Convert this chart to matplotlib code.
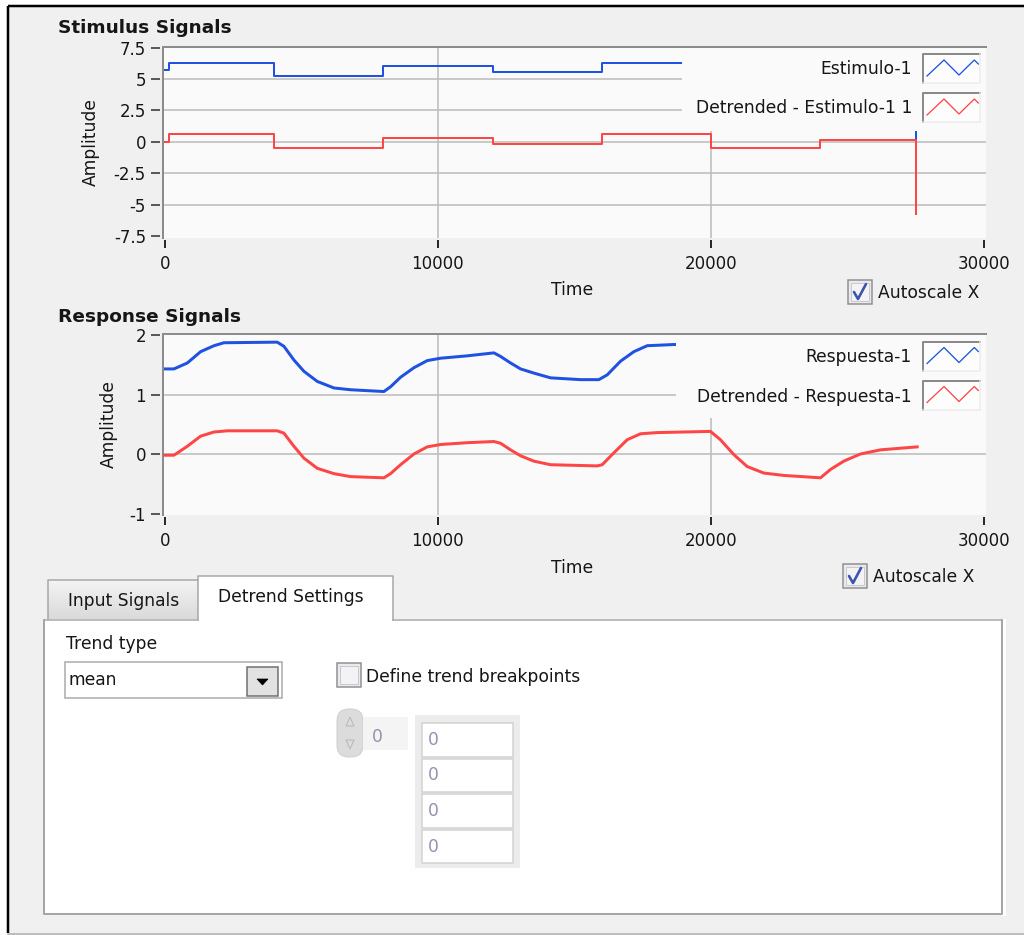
import matplotlib.pyplot as plt
from matplotlib.patches import Rectangle, Polygon, FancyBboxPatch
import numpy as np

# Stimulus: step signal and its mean-detrended version
stim_t = [0, 150, 4000, 8000, 12000, 16000, 20000, 24000, 27500]
stim_v = [5.75, 6.32, 5.25, 6.02, 5.57, 6.32, 5.30, 5.89, 0.0]
stim_det_v = [0.0, 0.64, -0.45, 0.30, -0.13, 0.62, -0.45, 0.14, -5.75]

# Response of the system
resp_t = [0, 340, 830, 1317, 1805, 2170, 4120, 4366, 4731, 5097, 5585, 6195,
          6805, 8024, 8268, 8634, 9122, 9610, 10099, 11075, 12050, 12294,
          12660, 13026, 13512, 14122, 15220, 15891, 16196, 16684, 17171,
          17660, 18635, 18730, 20000, 20840, 21900, 24000, 24850, 26200, 27500]
resp_v = [1.43, 1.43, 1.53, 1.72, 1.82, 1.87, 1.88, 1.81, 1.58, 1.39, 1.22,
          1.11, 1.08, 1.05, 1.13, 1.29, 1.45, 1.57, 1.61, 1.65, 1.70, 1.64,
          1.53, 1.43, 1.36, 1.28, 1.25, 1.25, 1.33, 1.56, 1.72, 1.82, 1.84,
          1.84, 1.84, 1.44, 1.13, 1.05, 1.33, 1.52, 1.57]

resp_det_t = [0, 340, 830, 1317, 1805, 2293, 4120, 4366, 4731, 5097, 5585,
              6195, 6805, 8024, 8268, 8634, 9122, 9610, 10099, 11075, 12050,
              12294, 12660, 13026, 13512, 14122, 15830, 16013, 16440, 16928,
              17415, 18025, 19975, 20340, 20830, 21317, 21927, 22660, 24000,
              24366, 24854, 25460, 26200, 27540]
resp_det_v = [-0.02, -0.02, 0.13, 0.30, 0.37, 0.39, 0.39, 0.35, 0.13, -0.07,
              -0.24, -0.33, -0.38, -0.40, -0.33, -0.18, 0.0, 0.12, 0.16, 0.19,
              0.21, 0.18, 0.07, -0.03, -0.12, -0.18, -0.20, -0.18, 0.02, 0.24,
              0.34, 0.36, 0.38, 0.24, -0.01, -0.21, -0.32, -0.36, -0.40, -0.26,
              -0.12, 0.0, 0.07, 0.12]

x_ticks = [0, 10000, 20000, 30000]
x_grid = [10000, 20000]
stim_yticks = [7.5, 5, 2.5, 0, -2.5, -5, -7.5]
stim_ylabels = ['7.5', '5', '2.5', '0', '-2.5', '-5', '-7.5']
stim_ygrid = [5, 2.5, 0, -2.5, -5]
resp_yticks = [2, 1, 0, -1]
resp_ylabels = ['2', '1', '0', '-1']
resp_ygrid = [1, 0]

stim_names = ['Estimulo-1', 'Detrended - Estimulo-1 1']
resp_names = ['Respuesta-1', 'Detrended - Respuesta-1']
breakpoints = [0, 0, 0, 0]

BLUE = '#1f52e0'
RED = '#ff4646'
PANEL = '#f0f0f0'
PLOTBG = '#fafafa'
GRID = '#bdbdbd'
FRAME = '#8c8c8c'
TXT = '#161616'
FS = 12.3

W, H = 1024, 935
PT = 0.72  # one pixel in points at 100 dpi

plt.rcParams['font.family'] = ['DejaVu Sans']
fig = plt.figure(figsize=(W / 100, H / 100), dpi=100)
fig.patch.set_facecolor('white')


def px_axes(l, t, r, b, z):
    return fig.add_axes([l / W, 1 - b / H, (r - l) / W, (b - t) / H], zorder=z)


def canvas(z):
    ax = px_axes(0, 0, W, H, z)
    ax.set_xlim(0, W)
    ax.set_ylim(H, 0)
    ax.axis('off')
    return ax


bg = canvas(0)
ov = canvas(3)

# window background and border
bg.add_patch(Rectangle((8, 6), W - 8, 927, fc=PANEL, ec='none'))
bg.plot([8, W], [6, 6], color='black', lw=2.5 * PT, solid_capstyle='butt')
bg.plot([8, 8], [6, 933], color='black', lw=2.5 * PT, solid_capstyle='butt')
bg.plot([8, W], [933.5, 933.5], color='#a8a8a8', lw=1.5 * PT)


def checkbox(ax, l, t, size, checked):
    ax.add_patch(Rectangle((l, t), size, size, fc='#e9e9ee', ec='#8f8f8f', lw=1.5 * PT))
    ax.add_patch(Rectangle((l + 3, t + 3), size - 6, size - 6, fc='#f3f3f6', ec='#c9c9d0', lw=1 * PT))
    if checked:
        ax.plot([l + 6, l + 10, l + size - 6], [t + 12, t + size - 5, t + 4],
                color='#3a55ab', lw=2.6 * PT, solid_capstyle='round')


def chart(top, bottom, title, title_y, t1, v1, t2, v2, step, lw,
          ylim, yticks, ylabels, ygrid, amp_x, time_y, auto_box, auto_y):
    ax = px_axes(163, top, 985.5, bottom, 1)
    ax.set_facecolor(PLOTBG)
    ax.set_xlim(-60, 30040)
    ax.set_ylim(*ylim)
    for y in ygrid:
        ax.axhline(y, color=GRID, lw=1.6 * PT, zorder=0.5)
    for x in x_grid:
        ax.axvline(x, color=GRID, lw=1.6 * PT, zorder=0.5)
    if step:
        ax.step(t1, v1, where='post', color=BLUE, lw=lw * PT, zorder=2)
        ax.step(t2, v2, where='post', color=RED, lw=lw * PT, zorder=2.1)
    else:
        ax.plot(t1, v1, color=BLUE, lw=lw * PT, zorder=2)
        ax.plot(t2, v2, color=RED, lw=lw * PT, zorder=2.1)

    for s in ax.spines.values():
        s.set_visible(False)
    ax.spines['left'].set_position(('outward', 3 * PT))
    ax.spines['bottom'].set_position(('outward', 2 * PT))
    ax.plot([0, 0], [0, 1], transform=ax.transAxes, color=FRAME, lw=2 * PT, clip_on=False)
    ax.plot([0, 1], [1, 1], transform=ax.transAxes, color=FRAME, lw=2 * PT, clip_on=False)

    ax.set_xticks(x_ticks)
    ax.set_xticklabels([str(v) for v in x_ticks])
    ax.set_yticks(yticks)
    ax.set_yticklabels(ylabels)
    ax.tick_params(axis='y', direction='out', length=9 * PT, width=1.5 * PT,
                   color='#2a2a2a', pad=5 * PT, labelsize=12, labelcolor=TXT)
    ax.tick_params(axis='x', direction='out', length=8 * PT, width=2 * PT,
                   color='#2a2a2a', pad=7 * PT, labelsize=12, labelcolor=TXT)

    bg.text(58, title_y, title, fontsize=13.3, fontweight='bold', color=TXT,
            ha='left', va='center')
    bg.text(amp_x, (top + bottom) / 2, 'Amplitude', rotation=90, fontsize=FS,
            color=TXT, ha='center', va='center')
    bg.text(572, time_y, 'Time', fontsize=FS, color=TXT, ha='center', va='center')
    checkbox(bg, auto_box[0], auto_box[1], 24, True)
    bg.text(auto_box[0] + 30, auto_y, 'Autoscale X', fontsize=FS, color=TXT,
            ha='left', va='center')
    return ax


def legend(left, top, bottom, names, text_y, box_top):
    ov.add_patch(Rectangle((left, top), 985.5 - left, bottom - top, fc=PLOTBG, ec='none'))
    for name, color, ty, bt in zip(names, [BLUE, RED], text_y, box_top):
        ov.text(912, ty, name, fontsize=FS, color=TXT, ha='right', va='center')
        ov.add_patch(Rectangle((923, bt), 57, 29, fc='#fdfdfd', ec='none'))
        ov.plot([923, 923, 980], [bt + 29, bt, bt], color='#8a8a8a', lw=2 * PT)
        ov.plot([923, 980, 980], [bt + 29, bt + 29, bt], color='#ececec', lw=1.5 * PT)
        ov.plot([927, 944, 959, 974.3, 978.3],
                [bt + 22, bt + 6, bt + 21, bt + 6, bt + 10], color=color, lw=1.3 * PT)


chart(47, 238, 'Stimulus Signals', 28, stim_t, stim_v, stim_t, stim_det_v, True, 2.0,
      (-7.66, 7.56), stim_yticks, stim_ylabels, stim_ygrid, 91, 290, (848, 280), 292.5)
legend(682, 48, 131, stim_names, [69, 108], [54, 93])

chart(334, 515, 'Response Signals', 317, resp_t, resp_v, resp_det_t, resp_det_v, False, 3.0,
      (-1.025, 2.017), resp_yticks, resp_ylabels, resp_ygrid, 109, 568, (843, 564), 576.5)
legend(676, 335, 418, resp_names, [357, 397], [341.5, 380.5])

# tab control
bg.add_patch(Rectangle((44, 619), 958, 295, fc='white', ec='none'))
bg.add_patch(Rectangle((1002, 619), 4, 297, fc='white', ec='none'))
shade = np.linspace(0.955, 0.855, 40)
grad = np.repeat(shade[:, None, None], 3, axis=2)
bg.imshow(grad, extent=[48, 198, 619, 580], aspect='auto', zorder=1,
          interpolation='bilinear')
bg.set_xlim(0, W)
bg.set_ylim(H, 0)
bg.plot([48, 48, 198], [619, 580, 580], color='#a6a6a6', lw=1.5 * PT, zorder=2)
bg.add_patch(Rectangle((198, 576), 195, 45, fc='white', ec='none', zorder=2))
bg.plot([198, 198, 393, 393], [620, 576, 576, 620], color='#a6a6a6', lw=1.5 * PT, zorder=3)
bg.plot([44, 198], [619.5, 619.5], color='#a6a6a6', lw=1.5 * PT, zorder=3)
bg.plot([393, 1002], [619.5, 619.5], color='#a6a6a6', lw=1.5 * PT, zorder=3)
bg.plot([44, 44, 1002, 1002], [619.5, 914, 914, 619.5], color='#a6a6a6', lw=2 * PT, zorder=3)
bg.text(124, 600.5, 'Input Signals', fontsize=FS, color=TXT, ha='center', va='center', zorder=4)
bg.text(291, 597, 'Detrend Settings', fontsize=FS, color=TXT, ha='center', va='center', zorder=4)

# trend type ring
bg.text(66, 644, 'Trend type', fontsize=FS, color=TXT, ha='left', va='center', zorder=4)
bg.add_patch(Rectangle((65, 662), 217, 36, fc='white', ec='#a9a9a9', lw=1.5 * PT, zorder=4))
bg.add_patch(Rectangle((247, 667), 31, 29, fc='#e2e2e2', ec='#6e6e6e', lw=1.5 * PT, zorder=5))
bg.add_patch(Polygon([(257, 679), (268, 679), (262.5, 685)], closed=True, fc='black',
                     ec='black', lw=0.5, zorder=6))
bg.text(69, 680, 'mean', fontsize=FS, color=TXT, ha='left', va='center', zorder=5)

# breakpoints controls
checkbox(bg, 337, 663, 24, False)
bg.text(366, 676.5, 'Define trend breakpoints', fontsize=FS, color=TXT,
        ha='left', va='center', zorder=4)
bg.add_patch(FancyBboxPatch((337, 709), 26, 48, boxstyle='round,pad=0,rounding_size=12',
                            fc='#dcdcdc', ec='#cfcfcf', lw=1 * PT, zorder=4))
bg.add_patch(Polygon([(346, 726), (354, 726), (350, 717)], closed=True, fc='none',
                     ec='#b8b8b8', lw=1 * PT, zorder=5))
bg.add_patch(Polygon([(346, 740), (354, 740), (350, 749)], closed=True, fc='none',
                     ec='#b8b8b8', lw=1 * PT, zorder=5))
bg.add_patch(Rectangle((363, 717), 45, 33, fc='#f4f4f4', ec='none', zorder=4))
bg.text(372, 737, '0', fontsize=FS, color='#9a8fb2', ha='left', va='center', zorder=5)
bg.add_patch(Rectangle((415, 715), 105, 153, fc='#ececec', ec='none', zorder=4))
cell_tops = [723, 758.5, 794, 829.5]
for ct, val in zip(cell_tops, breakpoints):
    bg.add_patch(Rectangle((422, ct), 91, 33.5, fc='white', ec='#d2d2d2', lw=1.5 * PT, zorder=5))
    bg.text(428, ct + 17, str(val), fontsize=FS, color='#9a8fb2', ha='left',
            va='center', zorder=6)

fig.savefig('out.png', dpi=100, facecolor=fig.get_facecolor())
